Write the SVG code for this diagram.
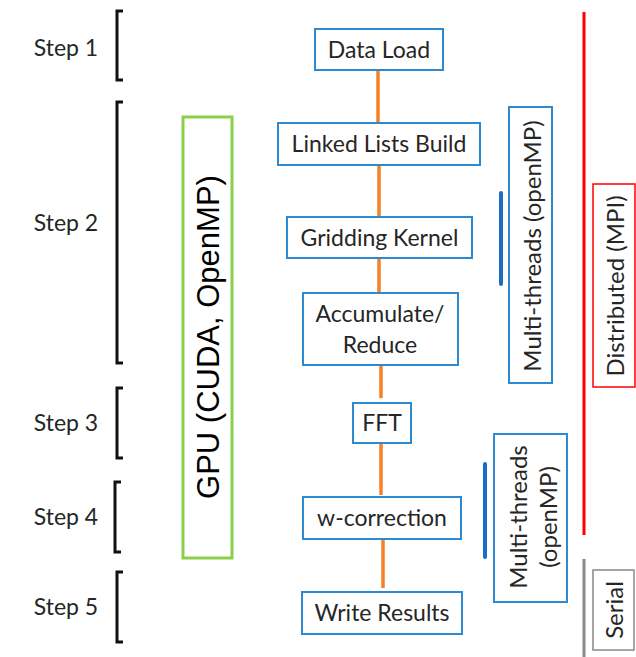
<svg xmlns="http://www.w3.org/2000/svg" width="636" height="657" viewBox="0 0 636 657">
<style>
.t{font-family:Lato,"Liberation Sans",sans-serif;font-size:23px;fill:#262626;text-anchor:middle;dominant-baseline:central}
.v{font-size:24px}
.box{fill:#fff;stroke:#2d8ad0;stroke-width:2}
.br{fill:none;stroke:#111;stroke-width:3}
.con{stroke:#f58025;stroke-width:3.5}
.bar{stroke:#1a6fc4;stroke-width:4;stroke-linecap:round}
</style>
<rect width="636" height="657" fill="#fff"/>
<g id="steps">
<g id="step1"><text class="t" x="66" y="47">Step 1</text><path class="br" d="M123,11 H117 V80 H123"/></g>
<g id="step2"><text class="t" x="66" y="222">Step 2</text><path class="br" d="M123,102 H117 V363 H123"/></g>
<g id="step3"><text class="t" x="66" y="422">Step 3</text><path class="br" d="M123,388 H117 V458 H123"/></g>
<g id="step4"><text class="t" x="66" y="516">Step 4</text><path class="br" d="M121,482 H115 V552 H121"/></g>
<g id="step5"><text class="t" x="66" y="606">Step 5</text><path class="br" d="M123,572 H117 V642 H123"/></g>
</g>
<g id="gpu">
<rect x="183" y="117" width="49" height="441" fill="#fff" stroke="#8cd04a" stroke-width="3"/>
<text x="0" y="0" transform="translate(208,337) rotate(-90)" font-family="Liberation Sans,Arial,sans-serif" font-size="31" fill="#000" text-anchor="middle" dominant-baseline="central">GPU (CUDA, OpenMP)</text>
</g>
<g id="connectors">
<line class="con" x1="378" y1="70" x2="378" y2="123"/>
<line class="con" x1="379" y1="165" x2="379" y2="217"/>
<line class="con" x1="379" y1="258" x2="379" y2="293"/>
<line class="con" x1="381" y1="365" x2="381" y2="398"/>
<line class="con" x1="381" y1="443" x2="381" y2="495"/>
<line class="con" x1="383" y1="539" x2="383" y2="588"/>
</g>
<g id="dataload"><rect class="box" x="315" y="29" width="128" height="41"/><text class="t" x="379" y="49">Data Load</text></g>
<g id="linked"><rect class="box" x="278" y="123" width="202" height="42"/><text class="t" x="379" y="143">Linked Lists Build</text></g>
<g id="gridding"><rect class="box" x="287" y="217" width="185" height="41"/><text class="t" x="379.5" y="237">Gridding Kernel</text></g>
<g id="accumulate"><rect class="box" x="303" y="293" width="155" height="72"/><text class="t" x="380" y="313">Accumulate/</text><text class="t" x="380" y="344">Reduce</text></g>
<g id="fft"><rect class="box" x="353" y="403" width="58" height="40"/><text class="t" x="382" y="422">FFT</text></g>
<g id="wcorr"><rect class="box" x="303" y="497" width="158" height="42"/><text class="t" x="382" y="517">w-correction</text></g>
<g id="write"><rect class="box" x="302" y="592" width="160" height="42"/><text class="t" x="382" y="612">Write Results</text></g>
<g id="mt1">
<line class="bar" x1="501" y1="193" x2="501" y2="284"/>
<rect class="box" x="509" y="107" width="43" height="276"/>
<text class="t v" transform="translate(531,246) rotate(-90)" x="0" y="0">Multi-threads (openMP)</text>
</g>
<g id="mt2">
<line class="bar" x1="485" y1="464" x2="485" y2="557"/>
<rect class="box" x="494" y="434" width="73" height="168"/>
<text class="t v" transform="translate(532,517) rotate(-90)" x="0" y="0"><tspan x="0" y="-15">Multi-threads</tspan><tspan x="0" y="15">(openMP)</tspan></text>
</g>
<g id="mpi">
<line x1="584" y1="12" x2="584" y2="535" stroke="#ff0000" stroke-width="3"/>
<rect x="593" y="184" width="42" height="203" fill="#fff" stroke="#ff0000" stroke-width="1.5"/>
<text class="t v" transform="translate(614,286) rotate(-90)" x="0" y="0">Distributed (MPI)</text>
</g>
<g id="serial">
<line x1="584" y1="559" x2="584" y2="657" stroke="#888" stroke-width="3"/>
<rect x="593" y="570" width="41" height="80" fill="#fff" stroke="#888" stroke-width="1.5"/>
<text class="t v" transform="translate(613,610) rotate(-90)" x="0" y="0">Serial</text>
</g>
</svg>
